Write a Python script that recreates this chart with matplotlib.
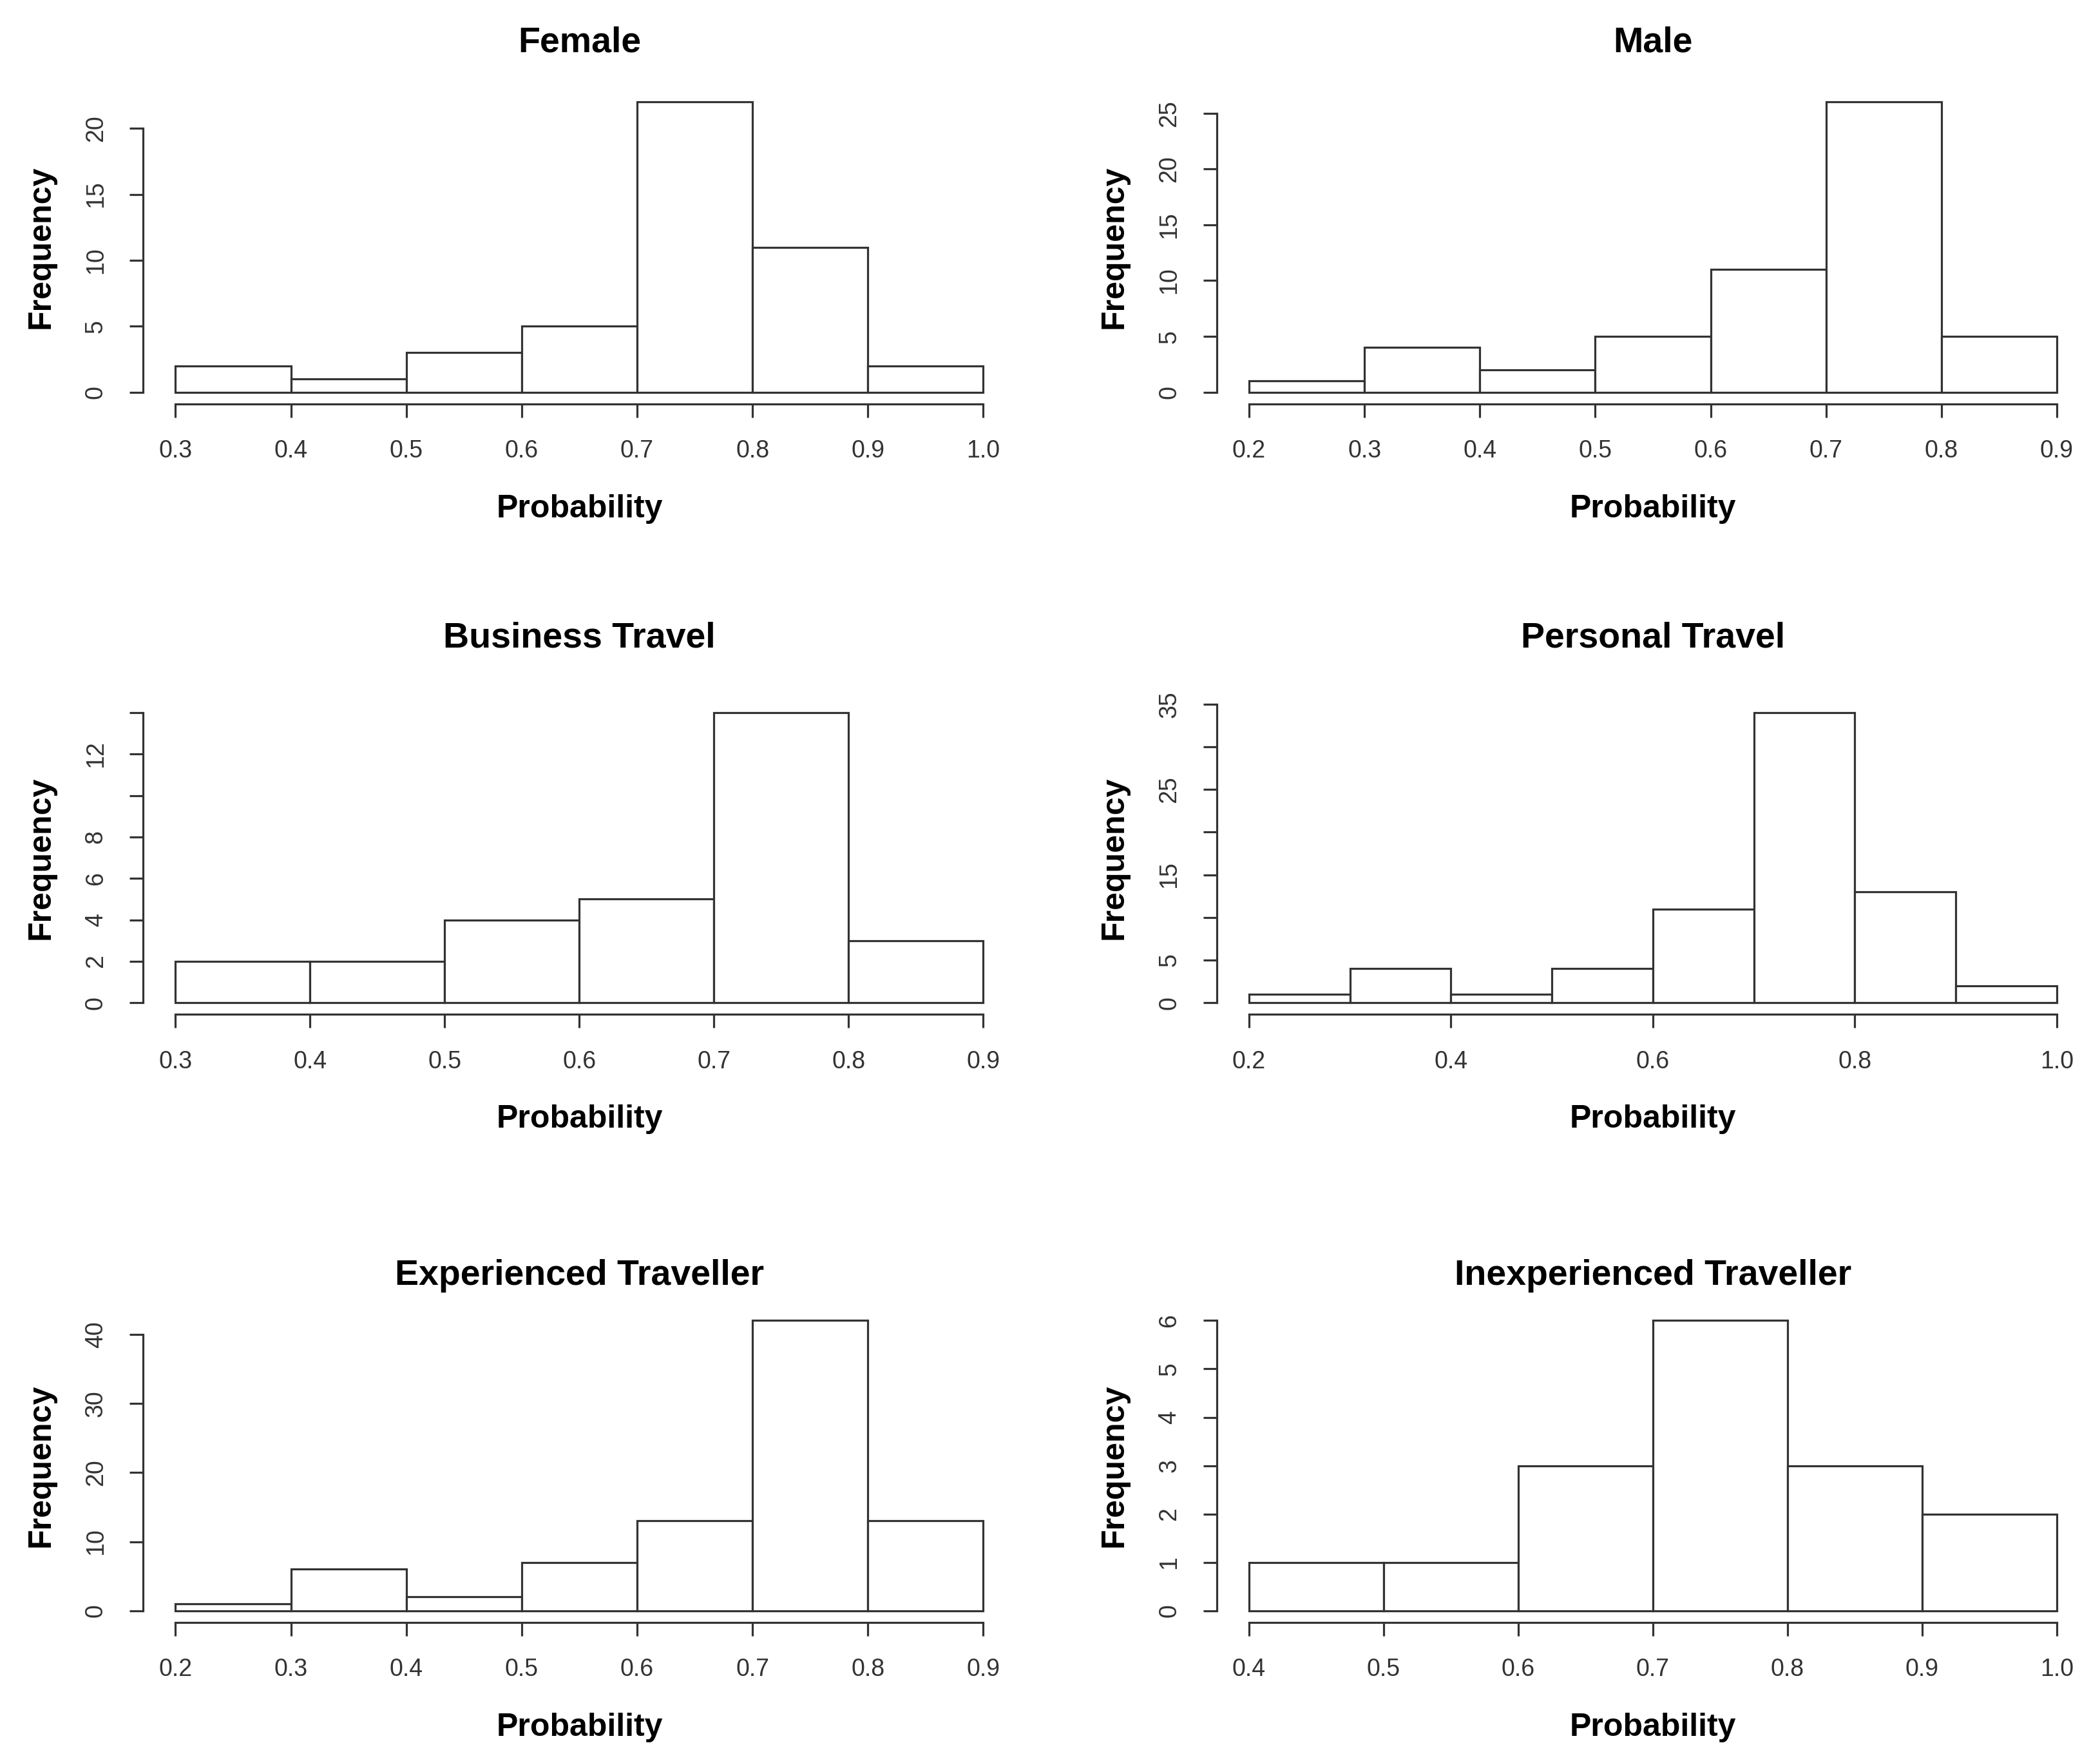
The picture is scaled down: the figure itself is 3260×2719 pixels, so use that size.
import matplotlib
matplotlib.use("Agg")
import matplotlib.pyplot as plt
import numpy as np

# ---- data ----
titles = ["Female", "Male", "Business Travel", "Personal Travel",
          "Experienced Traveller", "Inexperienced Traveller"]

female_edges = [0.3, 0.4, 0.5, 0.6, 0.7, 0.8, 0.9, 1.0]
female_counts = [2, 1, 3, 5, 22, 11, 2]

male_edges = [0.2, 0.3, 0.4, 0.5, 0.6, 0.7, 0.8, 0.9]
male_counts = [1, 4, 2, 5, 11, 26, 5]

business_edges = [0.3, 0.4, 0.5, 0.6, 0.7, 0.8, 0.9]
business_counts = [2, 2, 4, 5, 14, 3]

personal_edges = [0.2, 0.3, 0.4, 0.5, 0.6, 0.7, 0.8, 0.9, 1.0]
personal_counts = [1, 4, 1, 4, 11, 34, 13, 2]

experienced_edges = [0.2, 0.3, 0.4, 0.5, 0.6, 0.7, 0.8, 0.9]
experienced_counts = [1, 6, 2, 7, 13, 42, 13]

inexperienced_edges = [0.4, 0.5, 0.6, 0.7, 0.8, 0.9, 1.0]
inexperienced_counts = [1, 1, 3, 6, 3, 2]

female_xticks = [0.3, 0.4, 0.5, 0.6, 0.7, 0.8, 0.9, 1.0]
male_xticks = [0.2, 0.3, 0.4, 0.5, 0.6, 0.7, 0.8, 0.9]
business_xticks = [0.3, 0.4, 0.5, 0.6, 0.7, 0.8, 0.9]
personal_xticks = [0.2, 0.4, 0.6, 0.8, 1.0]
experienced_xticks = [0.2, 0.3, 0.4, 0.5, 0.6, 0.7, 0.8, 0.9]
inexperienced_xticks = [0.4, 0.5, 0.6, 0.7, 0.8, 0.9, 1.0]

female_yticks = [0, 5, 10, 15, 20]
female_ylabels = ["0", "5", "10", "15", "20"]
male_yticks = [0, 5, 10, 15, 20, 25]
male_ylabels = ["0", "5", "10", "15", "20", "25"]
business_yticks = [0, 2, 4, 6, 8, 10, 12, 14]
business_ylabels = ["0", "2", "4", "6", "8", "", "12", ""]
personal_yticks = [0, 5, 10, 15, 20, 25, 30, 35]
personal_ylabels = ["0", "5", "", "15", "", "25", "", "35"]
experienced_yticks = [0, 10, 20, 30, 40]
experienced_ylabels = ["0", "10", "20", "30", "40"]
inexperienced_yticks = [0, 1, 2, 3, 4, 5, 6]
inexperienced_ylabels = ["0", "1", "2", "3", "4", "5", "6"]

panels = [
    (female_edges, female_counts, female_xticks, female_yticks, female_ylabels),
    (male_edges, male_counts, male_xticks, male_yticks, male_ylabels),
    (business_edges, business_counts, business_xticks, business_yticks, business_ylabels),
    (personal_edges, personal_counts, personal_xticks, personal_yticks, personal_ylabels),
    (experienced_edges, experienced_counts, experienced_xticks, experienced_yticks, experienced_ylabels),
    (inexperienced_edges, inexperienced_counts, inexperienced_xticks, inexperienced_yticks, inexperienced_ylabels),
]

plt.rcParams["font.family"] = ["Liberation Sans", "DejaVu Sans"]

W, H = 3260, 2719
fig = plt.figure(figsize=(W / 100, H / 100), dpi=100)

col_left = [0.0682, 0.5794]
ax_w = 0.4154
row_bottom = [0.7695, 0.4210, 0.0740]
ax_h = 0.1789
title_pad = [43, 60, 27]

line_c = "#333333"
lw = 2.3

for i, (edges, counts, xt, yt, yl) in enumerate(panels):
    r, c = divmod(i, 2)
    ax = fig.add_axes([col_left[c], row_bottom[r], ax_w, ax_h])
    edges = np.asarray(edges)
    widths = np.diff(edges)
    ax.bar(edges[:-1], counts, width=widths, align="edge", color="white",
           edgecolor=line_c, linewidth=lw)
    x0, x1 = edges[0], edges[-1]
    xr = x1 - x0
    ymax = max(counts)
    ax.set_xlim(x0 - 0.04 * xr, x1 + 0.04 * xr)
    ax.set_ylim(-0.04 * ymax, ymax * 1.04)
    ax.spines["top"].set_visible(False)
    ax.spines["right"].set_visible(False)
    for s in ("left", "bottom"):
        ax.spines[s].set_color(line_c)
        ax.spines[s].set_linewidth(lw)
    ax.spines["bottom"].set_bounds(xt[0], xt[-1])
    ax.spines["left"].set_bounds(yt[0], yt[-1])
    ax.set_xticks(xt)
    ax.set_xticklabels([f"{v:.1f}" for v in xt])
    ax.set_yticks(yt)
    ax.set_yticklabels(yl, rotation=90, va="center")
    ax.tick_params(axis="both", length=15, width=lw, color=line_c,
                   labelsize=27, pad=25, labelcolor="#333333")
    ax.set_xlabel("Probability", fontsize=36, fontweight="bold", labelpad=35)
    ax.set_ylabel("Frequency", fontsize=36, fontweight="bold", labelpad=32)
    ax.set_title(titles[i], fontsize=40, fontweight="bold", pad=title_pad[r])

fig.savefig("out.png", dpi=100, facecolor="white")
